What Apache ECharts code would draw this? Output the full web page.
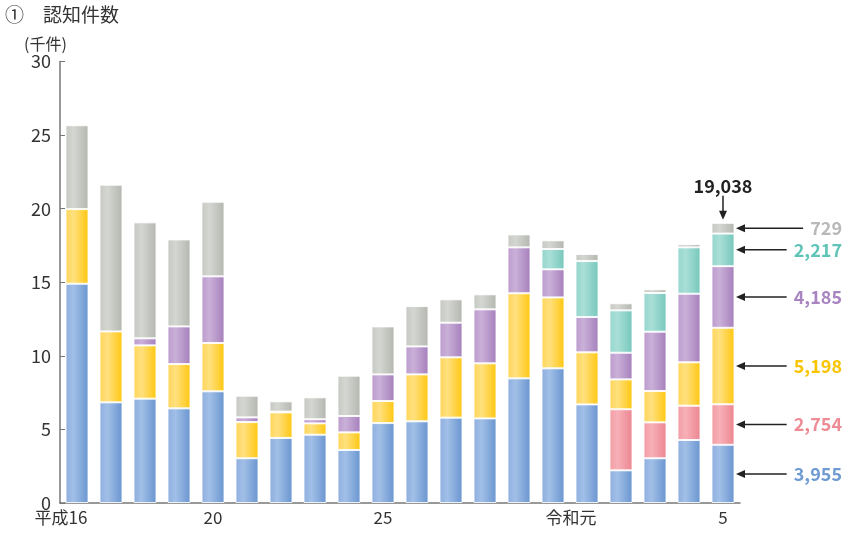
<!DOCTYPE html>
<html>
<head>
<meta charset="utf-8">
<script src="https://cdn.jsdelivr.net/npm/echarts@6/dist/echarts.min.js"></script>
<style>
  html, body { margin: 0; padding: 0; background: #fff; }
  #main { width: 866px; height: 534px; }
</style>
</head>
<body>
<div id="main"></div>
<script>
// 年次（平成16～令和5）
var years = ['平成16', '17', '18', '19', '20', '21', '22', '23', '24', '25',
    '26', '27', '28', '29', '30', '令和元', '2', '3', '4', '5'];
// 軸に出す目盛ラベル
var tickLabels = ['平成16', '', '', '', '20', '', '', '', '', '25',
    '', '', '', '', '', '令和元', '', '', '', '5'];

// 認知件数（千件）
var blueVals = [14.90, 6.84, 7.09, 6.43, 7.59, 3.04, 4.42, 4.64, 3.60, 5.43,
    5.55, 5.80, 5.75, 8.47, 9.15, 6.70, 2.22, 3.04, 4.28, 3.955];
var pinkVals = [null, null, null, null, null, null, null, null, null, null,
    null, null, null, null, null, null, 4.15, 2.44, 2.33, 2.754];
var yellowVals = [5.07, 4.82, 3.62, 3.01, 3.28, 2.46, 1.74, 0.77, 1.20, 1.50,
    3.19, 4.10, 3.74, 5.78, 4.82, 3.54, 2.03, 2.13, 2.95, 5.198];
var purpleVals = [null, null, 0.48, 2.56, 4.53, 0.32, 0.05, 0.28, 1.11, 1.81,
    1.90, 2.35, 3.67, 3.12, 1.91, 2.40, 1.81, 4.03, 4.66, 4.185];
var tealVals = [null, null, null, null, null, null, null, null, null, null,
    null, null, null, null, 1.38, 3.80, 2.88, 2.63, 3.15, 2.217];
var grayVals = [5.70, 9.97, 7.88, 5.91, 5.07, 1.47, 0.70, 1.49, 2.74, 3.26,
    2.74, 1.59, 1.02, 0.88, 0.59, 0.48, 0.48, 0.25, 0.22, 0.729];

var FONT = '"Noto Sans CJK JP", "Noto Sans", sans-serif';

// 系列ごとの色 [明, ハイライト, 暗] と注記の文字色
var seriesDefs = [
    { name: 'blue', data: blueVals, c: ['#8eaede', '#a1bfe7', '#6995cf'], text: '#6f9bd3' },
    { name: 'pink', data: pinkVals, c: ['#f29ba4', '#f7b0b7', '#ec8590'], text: '#ee8b95' },
    { name: 'yellow', data: yellowVals, c: ['#ffd65a', '#ffe07e', '#ffc710'], text: '#f9c400' },
    { name: 'purple', data: purpleVals, c: ['#bb9bcd', '#cab0d8', '#a57fbc'], text: '#a884c0' },
    { name: 'teal', data: tealVals, c: ['#95d6cd', '#a9dfd7', '#76c7bc'], text: '#5fc4b7' },
    { name: 'gray', data: grayVals, c: ['#c6c8c2', '#d4d6d1', '#b4b7b0'], text: '#b8b8b8' }
];

function barGrad(c) {
    return new echarts.graphic.LinearGradient(0, 0, 1, 0, [
        { offset: 0, color: c[0] },
        { offset: 0.35, color: c[1] },
        { offset: 1, color: c[2] }
    ]);
}

var last = years.length - 1;

// 最終年の各区分の中央位置と合計
var annot = [];
var cum = 0;
seriesDefs.forEach(function (d) {
    var v = d.data[last];
    annot.push([years[last], cum + v / 2]);
    cum += v;
});
var total = cum;

var measureCtx = document.createElement('canvas').getContext('2d');
var ANN_FONT = '600 18px ' + FONT;
measureCtx.font = ANN_FONT;

function fmt(v) {
    return Math.round(v * 1000).toLocaleString('en-US');
}

function arrowHead(x, y, dir) {
    // dir: 'left' or 'down'
    var pts = dir === 'left'
        ? [[x, y], [x + 9, y - 4], [x + 9, y + 4]]
        : [[x, y], [x - 4, y - 9], [x + 4, y - 9]];
    return { type: 'polygon', shape: { points: pts }, style: { fill: '#222' } };
}

var series = seriesDefs.map(function (d) {
    return {
        name: d.name,
        type: 'bar',
        stack: 'total',
        barWidth: 23,
        data: d.data,
        itemStyle: {
            color: barGrad(d.c),
            borderColor: 'rgba(255,255,255,0.85)',
            borderWidth: 1
        },
        emphasis: { disabled: true }
    };
});

// 右側の件数注記
series.push({
    type: 'custom',
    coordinateSystem: 'cartesian2d',
    encode: { x: 0, y: 1 },
    data: annot,
    silent: true,
    z: 10,
    renderItem: function (params, api) {
        var def = seriesDefs[params.dataIndex];
        var p = api.coord([api.value(0), api.value(1)]);
        var px = p[0], py = p[1];
        var txt = fmt(def.data[last]);
        var right = px + 119;
        var w = measureCtx.measureText(txt).width;
        var x0 = px + 13;
        var x1 = right - w - 7;
        return {
            type: 'group',
            children: [
                { type: 'line', shape: { x1: x0 + 6, y1: py, x2: x1, y2: py },
                  style: { stroke: '#222', lineWidth: 1.5 } },
                arrowHead(x0, py, 'left'),
                { type: 'text', x: right, y: py,
                  style: { text: txt, fill: def.text, font: ANN_FONT, align: 'right', verticalAlign: 'middle' } }
            ]
        };
    }
});

// 合計の注記
series.push({
    type: 'custom',
    coordinateSystem: 'cartesian2d',
    encode: { x: 0, y: 1 },
    data: [[years[last], total]],
    silent: true,
    z: 10,
    renderItem: function (params, api) {
        var p = api.coord([api.value(0), api.value(1)]);
        var px = p[0], py = p[1];
        var tipY = py - 3;
        return {
            type: 'group',
            children: [
                { type: 'line', shape: { x1: px, y1: py - 27, x2: px, y2: tipY - 6 },
                  style: { stroke: '#222', lineWidth: 1.5 } },
                arrowHead(px, tipY, 'down'),
                { type: 'text', x: px, y: py - 37,
                  style: { text: fmt(total), fill: '#222', font: '600 18px ' + FONT, align: 'center', verticalAlign: 'middle' } }
            ]
        };
    }
});

var chart = echarts.init(document.getElementById('main'));
chart.setOption({
    animation: false,
    backgroundColor: '#fff',
    textStyle: { fontFamily: FONT },
    title: [
        { text: '①　認知件数', left: 0, top: 0,
          textStyle: { fontSize: 19, fontWeight: 'normal', color: '#333', fontFamily: FONT } },
        { text: '(千件)', left: 19, top: 31,
          textStyle: { fontSize: 16, fontWeight: 'normal', color: '#333', fontFamily: FONT } }
    ],
    grid: { left: 60, right: 126, top: 61.5, bottom: 31, containLabel: false },
    xAxis: {
        type: 'category',
        data: years.map(function (y, i) {
            var item = { value: y };
            // 元号付きのラベルは数字部分を棒の中心に合わせる
            if (tickLabels[i].length > 2) {
                item.textStyle = { padding: [0, 32, 0, 0] };
            }
            return item;
        }),
        axisLine: { lineStyle: { color: '#777', width: 1.5 } },
        axisTick: { show: false },
        axisLabel: {
            interval: 0,
            margin: 6,
            fontSize: 17,
            color: '#333',
            fontFamily: FONT,
            formatter: function (v, i) { return tickLabels[i]; }
        }
    },
    yAxis: {
        type: 'value',
        min: 0,
        max: 30,
        interval: 5,
        axisLine: { show: true, lineStyle: { color: '#777', width: 1.5 } },
        axisTick: { show: true, inside: true, length: 5, lineStyle: { color: '#777' } },
        splitLine: { show: false },
        axisLabel: { fontSize: 18, color: '#333', margin: 9, fontFamily: FONT }
    },
    series: series
});
</script>
</body>
</html>
